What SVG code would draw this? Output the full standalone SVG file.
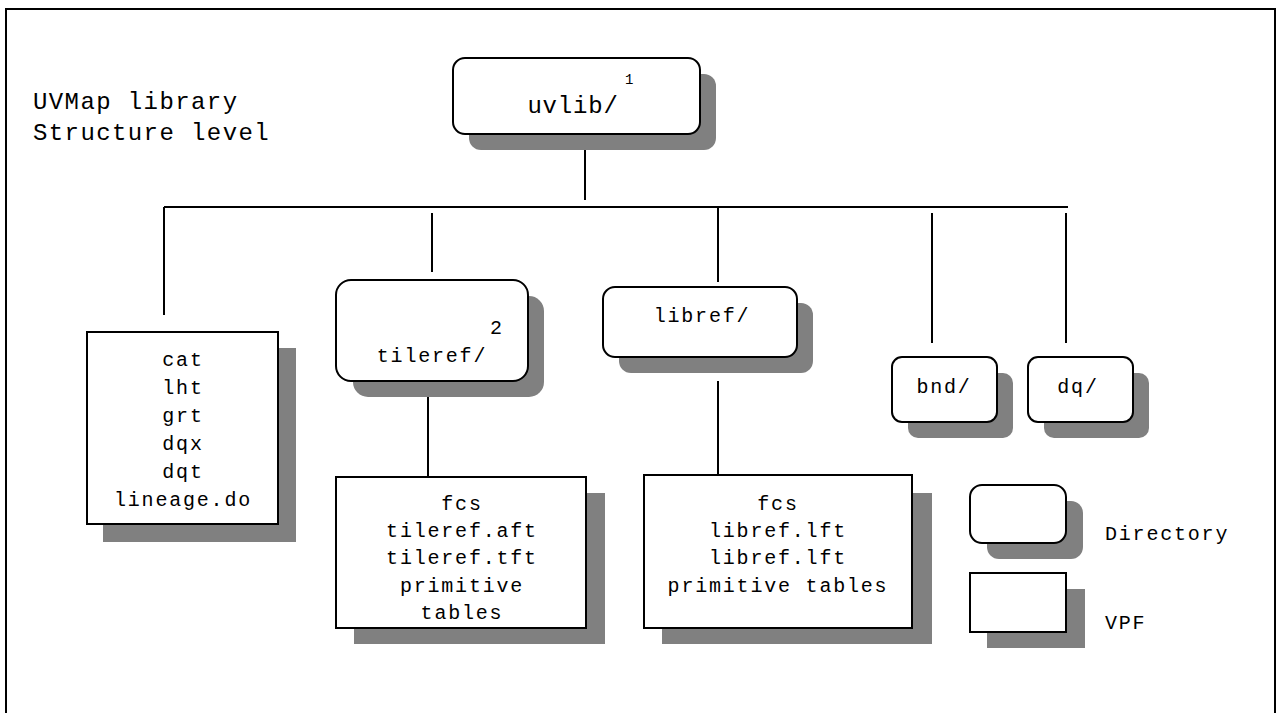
<svg xmlns="http://www.w3.org/2000/svg" width="1282" height="713" viewBox="0 0 1282 713">
<style>
text{font-family:"Liberation Mono","DejaVu Sans Mono",monospace;font-size:20px;fill:#000;letter-spacing:1.8px}
.c{text-anchor:middle}
.big{font-size:24px;letter-spacing:1.2px}
.box{fill:#fff;stroke:#000;stroke-width:2}
.sh{fill:#808080;stroke:none}
.ln{stroke:#000;stroke-width:2;fill:none}
.sup{font-size:14px;letter-spacing:0}
</style>
<rect x="0" y="0" width="1282" height="713" fill="#fff"/>
<path class="ln" d="M6,713 V9 H1275 V713"/>
<g id="title">
<text class="big" x="33" y="109" style="letter-spacing:1.4px">UVMap library</text>
<text class="big" x="33" y="140" style="letter-spacing:1.4px">Structure level</text>
</g>
<g id="connectors">
<line class="ln" x1="585" y1="150" x2="585" y2="200"/>
<line class="ln" x1="164" y1="207" x2="1068" y2="207"/>
<line class="ln" x1="164" y1="207" x2="164" y2="315"/>
<line class="ln" x1="432" y1="213" x2="432" y2="272"/>
<line class="ln" x1="718" y1="207" x2="718" y2="282"/>
<line class="ln" x1="932" y1="213" x2="932" y2="343"/>
<line class="ln" x1="1066" y1="213" x2="1066" y2="343"/>
<line class="ln" x1="428" y1="381" x2="428" y2="477"/>
<line class="ln" x1="718" y1="381" x2="718" y2="475"/>
</g>
<g id="uvlib">
<rect class="sh" x="469" y="74" width="247" height="76" rx="12"/>
<rect class="box" x="453" y="58" width="247" height="76" rx="12"/>
<text class="sup" x="625" y="84">1</text>
<text class="big c" x="573" y="113" style="letter-spacing:0.8px">uvlib/</text>
</g>
<g id="lineage">
<rect class="sh" x="103" y="348" width="193" height="194"/>
<rect class="box" x="87" y="332" width="191" height="192"/>
<text class="c" x="183" y="366">cat</text>
<text class="c" x="183" y="394">lht</text>
<text class="c" x="183" y="422">grt</text>
<text class="c" x="183" y="450">dqx</text>
<text class="c" x="183" y="478">dqt</text>
<text class="c" x="183" y="506">lineage.do</text>
</g>
<g id="tileref">
<rect class="sh" x="353" y="296" width="191" height="101" rx="15"/>
<rect class="box" x="336" y="280" width="192" height="101" rx="15"/>
<text x="490" y="334" style="letter-spacing:0">2</text>
<text class="c" x="432" y="362">tileref/</text>
</g>
<g id="tileref-files">
<rect class="sh" x="354" y="493" width="251" height="151"/>
<rect class="box" x="336" y="477" width="250" height="151"/>
<text class="c" x="462" y="510">fcs</text>
<text class="c" x="462" y="537">tileref.aft</text>
<text class="c" x="462" y="564">tileref.tft</text>
<text class="c" x="462" y="592">primitive</text>
<text class="c" x="462" y="619">tables</text>
</g>
<g id="libref">
<rect class="sh" x="619" y="303" width="194" height="70" rx="12"/>
<rect class="box" x="603" y="287" width="194" height="70" rx="12"/>
<text class="c" x="702" y="322">libref/</text>
</g>
<g id="libref-files">
<rect class="sh" x="662" y="493" width="270" height="151"/>
<rect class="box" x="644" y="475" width="268" height="153"/>
<text class="c" x="778" y="510">fcs</text>
<text class="c" x="778" y="537">libref.lft</text>
<text class="c" x="778" y="564">libref.lft</text>
<text class="c" x="778" y="592">primitive tables</text>
</g>
<g id="bnd">
<rect class="sh" x="908" y="373" width="105" height="65" rx="10"/>
<rect class="box" x="892" y="357" width="105" height="65" rx="10"/>
<text class="c" x="944" y="393">bnd/</text>
</g>
<g id="dq">
<rect class="sh" x="1044" y="373" width="105" height="65" rx="10"/>
<rect class="box" x="1028" y="357" width="105" height="65" rx="10"/>
<text class="c" x="1078" y="393">dq/</text>
</g>
<g id="legend-directory">
<rect class="sh" x="987" y="501" width="96" height="58" rx="12"/>
<rect class="box" x="970" y="485" width="96" height="58" rx="12"/>
<text x="1105" y="540">Directory</text>
</g>
<g id="legend-vpf">
<rect class="sh" x="987" y="589" width="98" height="59"/>
<rect class="box" x="970" y="573" width="96" height="59"/>
<text x="1105" y="629">VPF</text>
</g>
</svg>
